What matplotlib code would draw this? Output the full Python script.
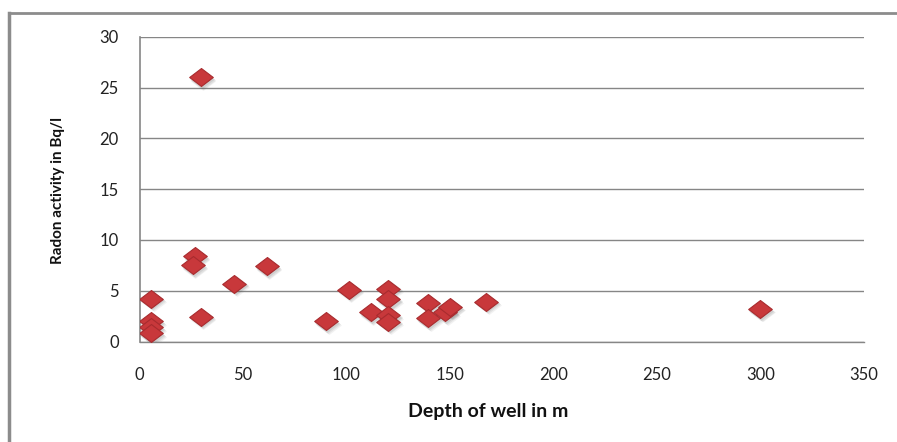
import matplotlib
matplotlib.use("Agg")
import matplotlib.pyplot as plt
import matplotlib.transforms as mtransforms
from matplotlib.path import Path
from matplotlib.lines import Line2D

plt.rcParams['font.family'] = ['Lato', 'DejaVu Sans']

# Well depth (m) and radon activity (Bq/l)
depth = [5.6, 5.6, 5.6, 5.6, 26.8, 25.7, 29.7, 29.7, 45.8, 61.4,
         90.1, 101.2, 111.8, 120.2, 120.2, 120.2, 120.2,
         139.5, 139.5, 147.6, 150.0, 167.4, 299.8]
radon = [4.2, 2.0, 1.4, 0.8, 8.4, 7.5, 2.45, 26.0, 5.7, 7.4,
         2.0, 5.1, 2.9, 5.2, 4.15, 2.6, 1.95,
         3.8, 2.3, 2.9, 3.4, 3.9, 3.2]

x_ticks = [0, 50, 100, 150, 200, 250, 300, 350]
y_ticks = [0, 5, 10, 15, 20, 25, 30]

W, H = 897, 442
fig = plt.figure(figsize=(W / 100, H / 100), dpi=100)
ax = fig.add_axes([139.5 / W, 1 - 341.5 / H, (864 - 139.5) / W, (341.5 - 36.7) / H])

# flattened diamond marker
diamond = Path([(-1, 0), (0, 0.76), (1, 0), (0, -0.76), (-1, 0)],
               [Path.MOVETO, Path.LINETO, Path.LINETO, Path.LINETO, Path.CLOSEPOLY])

# soft drop shadow beneath each marker
for dx, dy, a in [(2.5, -3.5, 0.08), (2, -2.6, 0.10), (1.2, -1.6, 0.12)]:
    shadow = mtransforms.offset_copy(ax.transData, fig=fig, x=dx, y=dy, units='dots')
    ax.plot(depth, radon, linestyle='none', marker=diamond, markersize=18,
            color='#555555', alpha=a, markeredgewidth=0, transform=shadow, zorder=2)

ax.plot(depth, radon, linestyle='none', marker=diamond, markersize=17,
        markerfacecolor='#C8383B', markeredgecolor='#A82B2E', markeredgewidth=0.8,
        zorder=3)

ax.set_xlim(0, 350)
ax.set_ylim(0, 30)
ax.set_xticks(x_ticks)
ax.set_yticks(y_ticks)
ax.tick_params(axis='x', length=0, labelsize=12, colors='#222222', pad=18)
ax.tick_params(axis='y', length=0, labelsize=12, colors='#222222', pad=15)
ax.grid(axis='y', color='#868686', linewidth=1.0)
ax.set_axisbelow(True)
for side in ['top', 'right']:
    ax.spines[side].set_visible(False)
ax.spines['left'].set_color('#868686')
ax.spines['left'].set_linewidth(1.2)
ax.spines['bottom'].set_color('#868686')
ax.spines['bottom'].set_linewidth(1.0)

# axis titles
fig.text(488 / W, 1 - 411 / H, 'Depth of well in m', fontsize=14,
         fontweight='bold', ha='center', va='center', color='#111111')
fig.text(58 / W, 1 - 190 / H, 'Radon activity in Bq/l', fontsize=11,
         fontweight='bold', ha='center', va='center', rotation=90, color='#111111')

# outer chart border (top and left edges)
fig.add_artist(Line2D([9 / W, 1.0], [1 - 13 / H, 1 - 13 / H],
                      transform=fig.transFigure, color='#8c8c8c', linewidth=2))
fig.add_artist(Line2D([9 / W, 9 / W], [0, 1 - 13 / H],
                      transform=fig.transFigure, color='#8c8c8c', linewidth=2.5))

fig.savefig('out.png', dpi=100)
